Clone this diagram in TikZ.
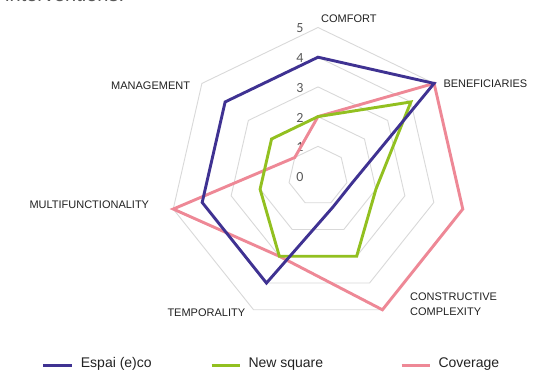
\documentclass[tikz,border=0pt]{standalone}
\usepackage{fontspec}
\setmainfont{Liberation Sans}
\newfontfamily\numfont{Carlito}
\definecolor{serA}{HTML}{3F3292}
\definecolor{serB}{HTML}{92C020}
\definecolor{serC}{HTML}{EE8896}
\definecolor{gridc}{HTML}{D9D9D9}
\definecolor{txtc}{HTML}{222222}
\definecolor{numc}{HTML}{595959}
\newcommand\radarcoord[3]{\coordinate (#1) at ({318+29.7*(#3)*sin((#2)*360/7)},{176-29.7*(#3)*cos((#2)*360/7)});}
\tikzset{
  gridline/.style={draw=gridc, line width=0.9pt},
  series/.style={line width=2.9pt, line join=miter},
  catlabel/.style={anchor=base west, inner sep=0pt, text=txtc, font=\fontsize{11}{13}\selectfont},
  numlabel/.style={anchor=center, inner sep=0pt, text=numc, font=\numfont\fontsize{14}{16}\selectfont},
  legtext/.style={anchor=base west, inner sep=0pt, text=txtc, font=\fontsize{14}{16}\selectfont},
  legline/.style={line width=3pt},
}
\begin{document}
\begin{tikzpicture}[x=1pt,y=-1pt]
\useasboundingbox (0,0) rectangle (553,371);
\fill[white] (0,0) rectangle (553,371);
% cropped heading fragment
\node[anchor=base west, inner sep=0pt, text=numc, font=\fontsize{20}{22}\selectfont] (head) at (5,1.5) {interventions.};
% grid
\foreach \l in {1,...,5}
  \draw[gridline] (318,{176-29.7*\l}) \foreach \k in {1,...,6} { -- ({318+29.7*\l*sin(\k*360/7)},{176-29.7*\l*cos(\k*360/7)}) } -- cycle;
% scale numbers
\foreach \v in {0,...,5}
  \node[numlabel] (n\v) at (300,{177-29.7*\v}) {\v};
% category labels
\node[catlabel] (comfort) at (321,22.7) {COMFORT};
\node[catlabel] (benef) at (443.3,87.3) {BENEFICIARIES};
\node[catlabel] (constr) at (410,300.7) {CONSTRUCTIVE};
\node[catlabel] (compl) at (410,315.7) {COMPLEXITY};
\node[catlabel] (tempo) at (167.3,316.7) {TEMPORALITY};
\node[catlabel] (multi) at (29.3,208.7) {MULTIFUNCTIONALITY};
\node[catlabel] (manag) at (111,89.3) {MANAGEMENT};
% series points
\radarcoord{C0}{0}{2}
\radarcoord{C1}{1}{5}
\radarcoord{C2}{2}{5}
\radarcoord{C3}{3}{5}
\radarcoord{C4}{4}{3}
\radarcoord{C5}{5}{5}
\radarcoord{C6}{6}{1}
\radarcoord{G0}{0}{2}
\radarcoord{G1}{1}{4}
\radarcoord{G2}{2}{2}
\radarcoord{G3}{3}{3}
\radarcoord{G4}{4}{3}
\radarcoord{G5}{5}{2}
\radarcoord{G6}{6}{2}
\radarcoord{B0}{0}{4}
\radarcoord{B1}{1}{5}
\radarcoord{B2}{2}{1.16}
\radarcoord{B3}{3}{1.16}
\radarcoord{B4}{4}{4}
\radarcoord{B5}{5}{4}
\radarcoord{B6}{6}{4}
\draw[series, serC] (C0) -- (C1) -- (C2) -- (C3) -- (C4) -- (C5) -- (C6) -- cycle;
\draw[series, serB] (G0) -- (G1) -- (G2) -- (G3) -- (G4) -- (G5) -- (G6) -- cycle;
\draw[series, serA] (B0) -- (B1) -- (B2) -- (B3) -- (B4) -- (B5) -- (B6) -- cycle;
% legend
\coordinate (la1) at (43.3,365); \coordinate (la2) at (72.3,365);
\coordinate (lb1) at (211.7,365); \coordinate (lb2) at (240,365);
\coordinate (lc1) at (401.7,365); \coordinate (lc2) at (430,365);
\draw[legline, serA] (la1) -- (la2);
\draw[legline, serB] (lb1) -- (lb2);
\draw[legline, serC] (lc1) -- (lc2);
\node[legtext] (lta) at (80.7,367.7) {Espai (e)co};
\node[legtext] (ltb) at (248.3,367.7) {New square};
\node[legtext] (ltc) at (438.3,367.7) {Coverage};
\end{tikzpicture}
\end{document}
